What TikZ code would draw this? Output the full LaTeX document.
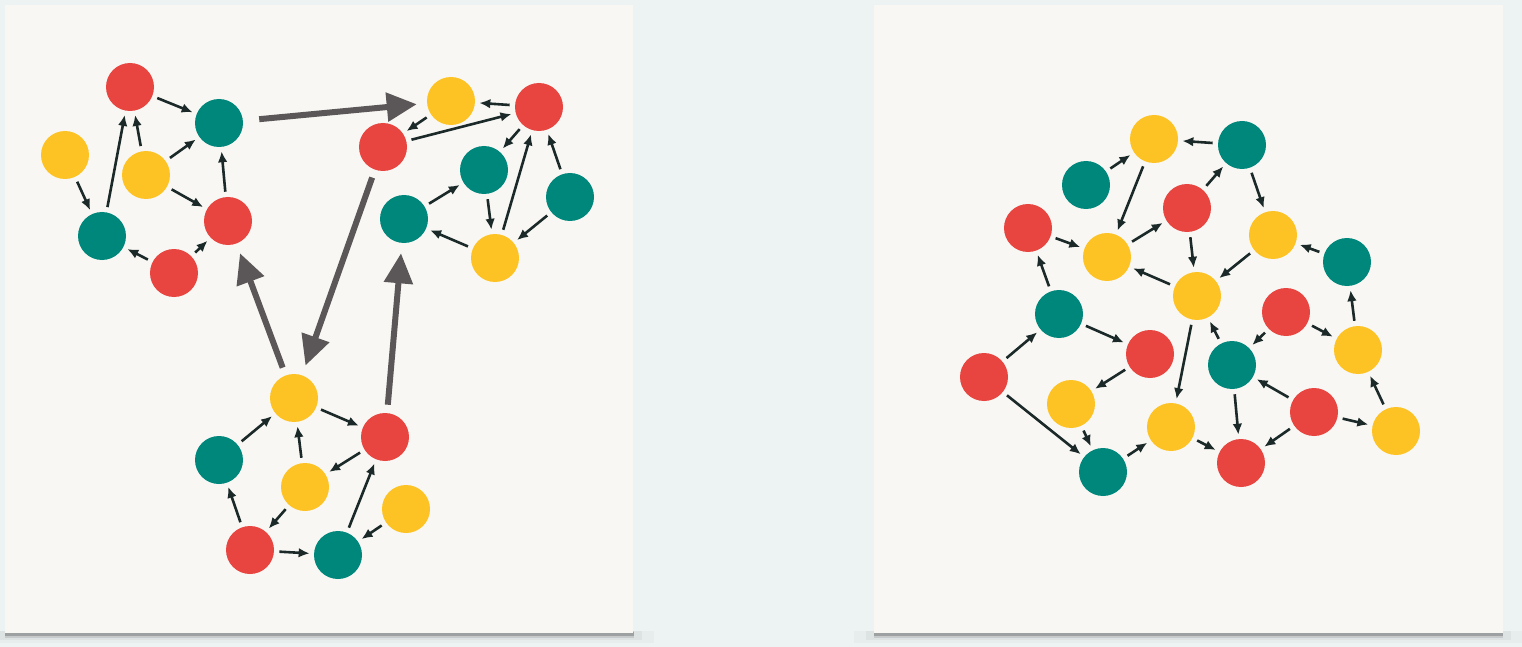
\documentclass[tikz,border=0pt]{standalone}
\usetikzlibrary{arrows.meta}
\definecolor{bgcol}{HTML}{EDF2F2}
\definecolor{panelcol}{HTML}{F8F7F3}
\definecolor{redc}{HTML}{E84541}
\definecolor{tealc}{HTML}{00877C}
\definecolor{yelc}{HTML}{FDC325}
\definecolor{edgec}{HTML}{1B2A29}
\definecolor{bigc}{HTML}{5B5657}
\tikzset{
  dot/.style={circle,inner sep=0pt,minimum size=24pt,draw=none},
  rd/.style={dot,fill=redc},
  tl/.style={dot,fill=tealc},
  yl/.style={dot,fill=yelc},
  ed/.style={draw=edgec,line width=1.3pt,-{Latex[length=5.5pt,width=4.8pt]},shorten >=2pt,shorten <=2.5pt},
  big/.style={draw=bigc,line width=3pt,-{Triangle[length=15pt,width=14pt]},shorten >=5pt,shorten <=4pt},
}
\begin{document}
\begin{tikzpicture}[x=0.5pt,y=-0.5pt]
\useasboundingbox (0,0) rectangle (1522,647);
\fill[bgcol] (0,0) rectangle (1522,647);
% panel shadows
\foreach \px in {5,874}{
  \fill[black,opacity=0.025] (\px-20,631) rectangle (\px+649,643);
  \fill[black,opacity=0.04] (\px-8,631) rectangle (\px+637,640);
  \fill[black,opacity=0.10] (\px,631) rectangle (\px+629,638);
  \fill[black,opacity=0.20] (\px,632) rectangle (\px+629,636);
}
\fill[panelcol] (5,5) rectangle (633,633);
\fill[panelcol] (874,5) rectangle (1503,633);

% ---------- left panel ----------
\node[rd] (R1) at (130,87) {};
\node[tl] (T1) at (219,123) {};
\node[yl] (Y1) at (65,155) {};
\node[yl] (Y2) at (146,175) {};
\node[tl] (T2) at (102,236) {};
\node[rd] (R2) at (228,221) {};
\node[rd] (R3) at (174,273) {};

\node[yl] (Y3) at (451,101) {};
\node[rd] (R4) at (539,107) {};
\node[rd] (R5) at (383,147) {};
\node[tl] (T3) at (484,170) {};
\node[tl] (T4) at (570,197) {};
\node[tl] (T5) at (404,219) {};
\node[yl] (Y4) at (495,258) {};

\node[yl] (Y5) at (294,398) {};
\node[rd] (R6) at (385,437) {};
\node[tl] (T6) at (219,460) {};
\node[yl] (Y6) at (305,487) {};
\node[yl] (Y7) at (406,509) {};
\node[rd] (R7) at (250,550) {};
\node[tl] (T7) at (338,555) {};

\draw[ed] (R1) -- (T1);
\draw[ed] (Y1) -- (T2);
\draw[ed] (T2) -- (R1);
\draw[ed] (Y2) -- (R1);
\draw[ed] (Y2) -- (T1);
\draw[ed] (Y2) -- (R2);
\draw[ed] (R2) -- (T1);
\draw[ed] (R3) -- (T2);
\draw[ed] (R3) -- (R2);

\draw[ed] (R4) -- (Y3);
\draw[ed] (Y3) -- (R5);
\draw[ed] (R5) -- (R4);
\draw[ed] (R4) -- (T3);
\draw[ed] (Y4) -- (R4);
\draw[ed] (T4) -- (R4);
\draw[ed] (T3) -- (Y4);
\draw[ed] (T5) -- (T3);
\draw[ed] (Y4) -- (T5);
\draw[ed] (T4) -- (Y4);

\draw[ed] (T6) -- (Y5);
\draw[ed] (Y5) -- (R6);
\draw[ed] (Y6) -- (Y5);
\draw[ed] (R6) -- (Y6);
\draw[ed] (Y6) -- (R7);
\draw[ed] (R7) -- (T6);
\draw[ed] (R7) -- (T7);
\draw[ed] (T7) -- (R6);
\draw[ed] (Y7) -- (T7);

\draw[big,shorten <=8pt] (T1) -- (Y3);
\draw[big] (R5) -- (Y5);
\draw[big] (Y5) -- (R2);
\draw[big] (R6) -- (T5);

% ---------- right panel ----------
\node[yl] (Ya) at (1154,139) {};
\node[tl] (Ta) at (1086,185) {};
\node[rd] (Ra) at (1187,208) {};
\node[rd] (Rb) at (1028,228) {};
\node[yl] (Yb) at (1107,257) {};
\node[yl] (Yc) at (1197,296) {};
\node[tl] (Tb) at (1059,314) {};
\node[tl] (Tc) at (1242,145) {};
\node[yl] (Yd) at (1273,235) {};
\node[tl] (Td) at (1347,262) {};
\node[rd] (Re) at (1286,312) {};
\node[yl] (Ye) at (1358,350) {};
\node[rd] (Rf) at (984,377) {};
\node[rd] (Rg) at (1150,354) {};
\node[yl] (Yf) at (1071,404) {};
\node[yl] (Yg) at (1171,427) {};
\node[tl] (Te) at (1103,472) {};
\node[tl] (Tf) at (1232,365) {};
\node[rd] (Rh) at (1314,412) {};
\node[yl] (Yh) at (1396,431) {};
\node[rd] (Ri) at (1241,463) {};

\draw[ed] (Ta) -- (Ya);
\draw[ed] (Tc) -- (Ya);
\draw[ed] (Ya) -- (Yb);
\draw[ed] (Rb) -- (Yb);
\draw[ed] (Yb) -- (Ra);
\draw[ed] (Ra) -- (Tc);
\draw[ed] (Tc) -- (Yd);
\draw[ed] (Ra) -- (Yc);
\draw[ed] (Yc) -- (Yb);
\draw[ed] (Yd) -- (Yc);
\draw[ed] (Td) -- (Yd);
\draw[ed] (Tb) -- (Rb);
\draw[ed] (Rf) -- (Tb);
\draw[ed] (Tb) -- (Rg);
\draw[ed] (Rg) -- (Yf);
\draw[ed] (Rf) -- (Te);
\draw[ed] (Yf) -- (Te);
\draw[ed] (Te) -- (Yg);
\draw[ed] (Yc) -- (Yg);
\draw[ed] (Tf) -- (Yc);
\draw[ed] (Re) -- (Tf);
\draw[ed] (Re) -- (Ye);
\draw[ed] (Ye) -- (Td);
\draw[ed] (Rh) -- (Tf);
\draw[ed] (Tf) -- (Ri);
\draw[ed] (Yg) -- (Ri);
\draw[ed] (Rh) -- (Ri);
\draw[ed] (Rh) -- (Yh);
\draw[ed] (Yh) -- (Ye);
\end{tikzpicture}
\end{document}
